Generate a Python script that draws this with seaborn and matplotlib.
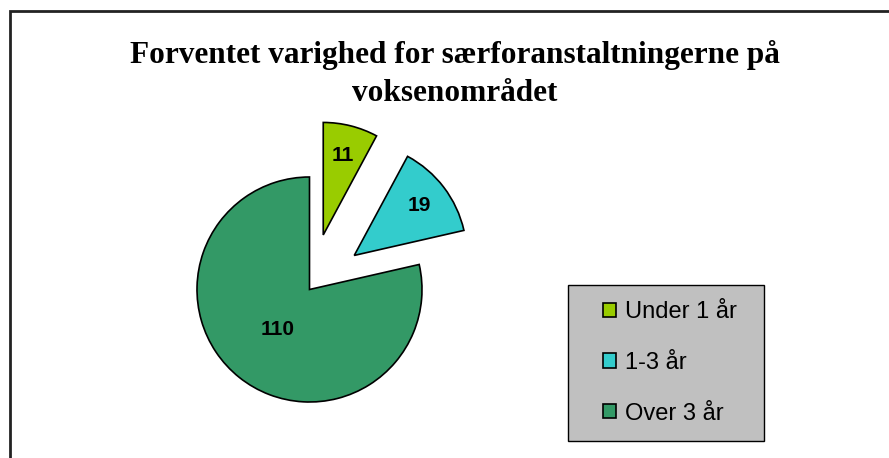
import matplotlib
matplotlib.use("Agg")
import matplotlib.pyplot as plt
import seaborn as sns
from matplotlib.patches import Rectangle

# ---- data ----
categories = ["Under 1 år", "1-3 år", "Over 3 år"]
values = [11, 19, 110]
colors = ["#99CC00", "#33CCCC", "#339966"]
explode = [0.5, 0.5, 0.0]
title = "Forventet varighed for særforanstaltningerne på\nvoksenområdet"

sns.set_theme(style="white")
plt.rcParams["font.family"] = ["Liberation Sans", "DejaVu Sans"]
plt.rcParams["text.color"] = "black"

W, H = 889, 458
fig = plt.figure(figsize=(W / 100, H / 100), dpi=100)
fig.patch.set_facecolor("white")

# chart border (extends beyond right/bottom edges)
fig.patches.append(Rectangle((10 / W, -0.1), 1.2, 1.1 - 11 / H,
                             transform=fig.transFigure, fill=False,
                             edgecolor="#222222", linewidth=2.0, zorder=0))

# pie axes: centre (309.5, 289.5) px, radius 112.5 px
R, s = 112.5, 1.7
cx, cy = 309.5, 289.5
side = 2 * R * s
ax = fig.add_axes([(cx - R * s) / W, (H - cy - R * s) / H, side / W, side / H])
total = sum(values)
wedges, texts, autotexts = ax.pie(
    values, colors=sns.color_palette(colors), explode=explode, startangle=90,
    counterclock=False, radius=1.0,
    wedgeprops=dict(edgecolor="black", linewidth=1.2),
    autopct=lambda p: f"{round(p * total / 100)}", pctdistance=0.73,
    textprops=dict(fontsize=15, fontweight="bold", color="black"))
# move the large slice's label closer to the centre
x, y = autotexts[2].get_position()
autotexts[2].set_position((x * 0.46 / 0.73, y * 0.46 / 0.73))
ax.set_xlim(-s, s)
ax.set_ylim(-s, s)
ax.set_aspect("equal")
ax.axis("off")

# title
fig.text(455 / W, 1 - 74 / H, title, ha="center", va="center",
         fontsize=22.5, fontweight="bold", color="black",
         family=["Liberation Serif", "DejaVu Serif"], linespacing=1.4)

# legend box
fig.patches.append(Rectangle((568 / W, 1 - 441 / H), 196 / W, 156 / H,
                             transform=fig.transFigure, facecolor="#C0C0C0",
                             edgecolor="black", linewidth=1.0, zorder=1))
leg = fig.legend(wedges, categories, loc="upper left",
                 bbox_to_anchor=(603 / W, 1 - 301 / H), frameon=False,
                 fontsize=17, handlelength=0.55, handleheight=0.55,
                 handletextpad=0.4, labelspacing=1.22, borderpad=0,
                 borderaxespad=0, labelcolor="black")
leg.set_zorder(2)
for h in leg.legend_handles:
    h.set_edgecolor("black")
    h.set_linewidth(1.2)

fig.savefig("out.png", dpi=100)
